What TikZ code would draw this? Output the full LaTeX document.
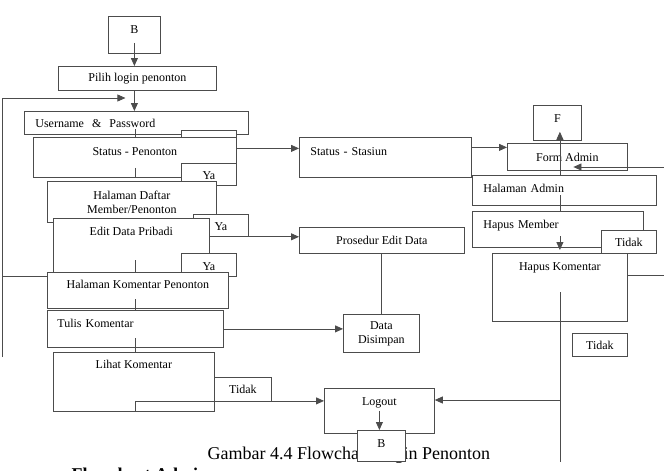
\documentclass[tikz,border=0pt]{standalone}
\usepackage{fontspec}
\setmainfont{Liberation Serif}
\usetikzlibrary{arrows.meta}

\begin{document}
\begin{tikzpicture}[x=1pt, y=-1pt, >={Triangle[length=8pt,width=7pt]},
    every node/.style={font=\fontsize{12}{14}\selectfont},
    box/.style={draw=black!70, line width=0.8pt, fill=white, anchor=north west, inner sep=0pt},
    flow/.style={draw=black!70, line width=0.8pt}]
    \useasboundingbox[fill=white] (0,0) rectangle (664,471);
    \clip (0,0) rectangle (664,471);
    \coordinate (loopTop) at (2,98);
    \coordinate (loopBot) at (2,357);
    \coordinate (rightA) at (664,167);
    \coordinate (rightB) at (664,275);
    % caption lines (partly hidden)
    \node[anchor=base west, font=\fontsize{18}{20}\selectfont] (cap) at (204,459)
      {Gambar 4.4 Flowchart Login Penonton};
    \node[anchor=base west, font=\fontsize{18}{20}\selectfont\bfseries] (capAdm) at (68,480)
      {Flowchart Admin};
    % left column
    \node[box, minimum width=52pt, text height=17pt, text depth=20pt] (bTop) at (108,16) {B};
    \node[box, minimum width=158pt, minimum height=24pt] (pilih) at (58,66) {Pilih login penonton};
    \node[box, minimum width=224pt, inner xsep=11pt, text width=202pt, align=left,
      text height=16pt, text depth=7pt] (user) at (24,111) {Username\ \ \&\ \ Password};
    \node[box, minimum width=55pt, minimum height=20pt] (yaA) at (181,130) {};
    \node[box, minimum width=203pt, text height=18pt, text depth=22pt] (statP) at (33,137)
      {Status - Penonton};
    \node[box, minimum width=55pt, text height=16pt, text depth=6pt] (yaB) at (181,163) {Ya};
    \node[box, minimum width=169pt, minimum height=41pt, align=center] (halD) at (47,181)
      {Halaman Daftar\\Member/Penonton};
    \node[box, minimum width=55pt, text height=16pt, text depth=6pt] (yaC) at (193,214) {Ya};
    \node[box, minimum width=156pt, text height=17pt, text depth=39pt] (edit) at (53,218)
      {Edit Data Pribadi};
    \node[box, minimum width=55pt, text height=17pt, text depth=6pt] (yaD) at (181,253) {Ya};
    \node[box, minimum width=181pt, text height=16pt, text depth=20pt] (halK) at (47,272)
      {Halaman Komentar Penonton};
    \node[box, minimum width=176pt, inner xsep=10pt, text width=156pt, align=left,
      text height=17pt, text depth=20pt] (tulis) at (47,310) {Tulis Komentar};
    \node[box, minimum width=161pt, text height=16pt, text depth=43pt] (lihat) at (53,352)
      {Lihat Komentar};
    \node[box, minimum width=57pt, minimum height=24pt] (tidakL) at (214,377) {Tidak};
    % middle column
    \node[box, minimum width=172pt, inner xsep=11pt, text width=150pt, align=left,
      text height=18pt, text depth=22pt] (statS) at (299,137) {Status - Stasiun};
    \node[box, minimum width=165pt, minimum height=26pt] (pros) at (299,227) {Prosedur Edit Data};
    \node[box, minimum width=76pt, minimum height=38pt, align=center] (data) at (343,314)
      {Data\\Disimpan};
    \node[box, minimum width=110pt, text height=17pt, text depth=28pt] (logout) at (324,388) {Logout};
    \node[box, minimum width=48pt, text height=17pt, text depth=14pt] (bBot) at (357,430) {B};
    % right column
    \node[box, minimum width=48pt, text height=17pt, text depth=18pt] (fTop) at (533,105) {F};
    \node[box, minimum width=120pt, minimum height=27pt] (form) at (507,143) {Form Admin};
    \node[box, minimum width=184pt, inner xsep=11pt, text width=162pt, align=left,
      text height=17pt, text depth=13pt] (halA) at (472,175) {Halaman Admin};
    \node[box, minimum width=171pt, inner xsep=11pt, text width=149pt, align=left,
      text height=17pt, text depth=19pt] (hapM) at (472,211) {Hapus Member};
    \node[box, minimum width=135pt, text height=17pt, text depth=51pt] (hapK) at (492,253)
      {Hapus Komentar};
    \node[box, minimum width=55pt, minimum height=23pt] (tidakR) at (601,230) {Tidak};
    \node[box, minimum width=55pt, minimum height=23pt] (tidakB) at (572,333) {Tidak};
    % connectors
    \draw[flow, ->] ([yshift=-8pt]bTop.center) -- (bTop.center |- pilih.north);
    \draw[flow, ->] (pilih.south -| bTop.center) -- (bTop.center |- user.north);
    \draw[flow, ->] (loopBot) -- (loopTop) -- ([xshift=-9pt]bTop.center |- loopTop);
    \draw[flow] (loopBot |- 0,276) -- (halK.west |- 0,276);
    \draw[flow] ([yshift=6pt]user.south -| statP.north) -- (statP.north);
    \draw[flow] ([yshift=10pt]statP.south) -- (statP.south);
    \draw[flow] (statP.south |- 0,260) -- (statP.south |- halK.north);
    \draw[flow] (statP.south |- 0,299) -- (statP.south |- tulis.north);
    \draw[flow] (statP.south |- 0,338) -- (statP.south |- lihat.north);
    \draw[flow, ->] (statP.south |- lihat.south) |- ([yshift=10pt]logout.west);
    \draw[flow, ->] ([yshift=9pt]statP.east) -- ([yshift=9pt]statS.west);
    \draw[flow, ->] (edit.east |- yaC.south) -- (pros.west |- yaC.south);
    \draw[flow] (pros.south -| data.north) -- (data.north);
    \draw[flow, ->] (tulis.east) -- (tulis.east -| data.west);
    \draw[flow, ->] (logout.center) -- (logout.center |- bBot.north);
    \draw[flow, ->] ([yshift=10pt]statS.east) -- ([yshift=10pt]statS.east -| form.west);
    \draw[flow, ->] (rightA) -- ([xshift=6pt]form.center |- rightA);
    \draw[flow, ->] (hapK.center |- halA.north) -- ([yshift=9pt]fTop.south -| hapK.center);
    \draw[flow] (hapK.center |- 0,195) -- (hapK.center |- hapM.north);
    \draw[flow, ->] (hapK.center |- 0,236) -- (hapK.center |- 0,250);
    \draw[flow] (hapK.east |- rightB) -- (rightB);
    \draw[flow] (hapK.center |- 0,292) -- (hapK.center |- 0,462);
    \draw[flow, ->] (hapK.center |- 0,400) -- (logout.east |- 0,400);
  \end{tikzpicture}
\end{document}
